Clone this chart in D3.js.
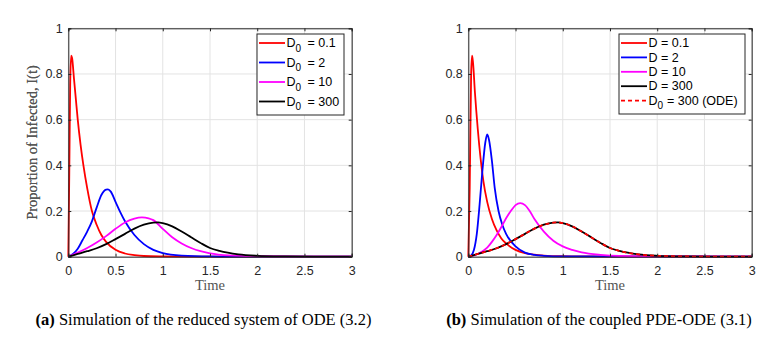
<!DOCTYPE html>
<html>
<head>
<meta charset="utf-8">
<script src="https://cdn.jsdelivr.net/npm/d3@7"></script>
<style>
  html, body { margin: 0; padding: 0; background: #fff; }
  svg text { white-space: pre; }
</style>
</head>
<body>
<div class="root"></div>
<script>
// tick values, labels
const xTicks = [0, 0.5, 1, 1.5, 2, 2.5, 3]
const yTicks = [0, 0.2, 0.4, 0.6, 0.8, 1]

// (a) reduced ODE system
const tRedA = [0, 0.01, 0.02, 0.03, 0.04, 0.06, 0.08, 0.1, 0.13, 0.16, 0.2, 0.25, 0.3, 0.35, 0.4, 0.5, 0.6, 0.7, 0.8, 1.0, 1.3, 3]
const iRedA = [0, 0.35, 0.75, 0.88, 0.87, 0.78, 0.69, 0.6, 0.49, 0.4, 0.3, 0.2, 0.14, 0.095, 0.065, 0.03, 0.014, 0.007, 0.003, 0.001, 0, 0]
const tBlueA = [0, 0.05, 0.1, 0.15, 0.2, 0.25, 0.3, 0.35, 0.4, 0.42, 0.45, 0.5, 0.55, 0.6, 0.7, 0.8, 0.9, 1.0, 1.2, 1.5, 2, 3]
const iBlueA = [0, 0.012, 0.035, 0.072, 0.11, 0.155, 0.215, 0.27, 0.294, 0.295, 0.285, 0.24, 0.195, 0.155, 0.095, 0.055, 0.03, 0.016, 0.005, 0.001, 0, 0]
const tMagA = [0, 0.1, 0.2, 0.3, 0.4, 0.5, 0.6, 0.7, 0.78, 0.85, 0.9, 1.0, 1.1, 1.2, 1.3, 1.4, 1.5, 1.7, 2.0, 2.5, 3]
const iMagA = [0, 0.018, 0.038, 0.062, 0.09, 0.122, 0.15, 0.167, 0.172, 0.168, 0.16, 0.122, 0.085, 0.058, 0.038, 0.024, 0.015, 0.006, 0.002, 0, 0]
const tBlack = [0, 0.1, 0.2, 0.3, 0.4, 0.5, 0.6, 0.7, 0.8, 0.9, 0.95, 1.0, 1.1, 1.2, 1.3, 1.4, 1.5, 1.6, 1.8, 2.0, 2.3, 2.6, 3]
const iBlack = [0, 0.012, 0.024, 0.037, 0.055, 0.077, 0.1, 0.123, 0.14, 0.149, 0.15, 0.147, 0.133, 0.11, 0.085, 0.06, 0.038, 0.025, 0.01, 0.004, 0.001, 0, 0]

// (b) coupled PDE-ODE
const tRedB = [0, 0.015, 0.03, 0.04, 0.05, 0.07, 0.1, 0.13, 0.16, 0.2, 0.25, 0.3, 0.35, 0.4, 0.5, 0.6, 0.7, 0.8, 1.0, 1.3, 1.6, 2.0, 3]
const iRedB = [0, 0.3, 0.8, 0.88, 0.85, 0.72, 0.56, 0.43, 0.33, 0.24, 0.165, 0.115, 0.08, 0.058, 0.03, 0.016, 0.009, 0.005, 0.002, 0.001, 0, 0, 0]
const tBlueB = [0, 0.03, 0.06, 0.09, 0.12, 0.15, 0.18, 0.2, 0.22, 0.25, 0.28, 0.32, 0.36, 0.4, 0.5, 0.6, 0.7, 0.8, 1.0, 3]
const iBlueB = [0, 0.005, 0.03, 0.1, 0.23, 0.38, 0.5, 0.535, 0.51, 0.42, 0.3, 0.2, 0.14, 0.1, 0.045, 0.018, 0.008, 0.004, 0.001, 0]
const tMagB = [0, 0.1, 0.2, 0.25, 0.3, 0.35, 0.4, 0.45, 0.5, 0.55, 0.6, 0.65, 0.7, 0.8, 0.9, 1.0, 1.1, 1.2, 1.4, 1.6, 2.0, 3]
const iMagB = [0, 0.012, 0.04, 0.065, 0.095, 0.13, 0.168, 0.2, 0.226, 0.235, 0.226, 0.2, 0.165, 0.11, 0.07, 0.045, 0.03, 0.019, 0.008, 0.003, 0.001, 0]

const namesA = ['D_0 = 0.1', 'D_0 = 2', 'D_0 = 10', 'D_0 = 300']
const namesB = ['D = 0.1', 'D = 2', 'D = 10', 'D = 300', 'D_0 = 300 (ODE)']
const colors = ['#ff0000', '#0000ff', '#ff00ff', '#000000', '#ff0000']

const zip = (ts, vs) => ts.map((t, i) => ({ t, v: vs[i] }))

const panels = [
  { left: 68.3, tag: '(a)', caption: ' Simulation of the reduced system of ODE (3.2)', capX: 203.5,
    series: [zip(tRedA, iRedA), zip(tBlueA, iBlueA), zip(tMagA, iMagA), zip(tBlack, iBlack)],
    names: namesA, subGap: 3, legend: { x: 257, y: 34, w: 87, h: 81, rowH: 19.5 } },
  { left: 468.3, tag: '(b)', caption: ' Simulation of the coupled PDE-ODE (3.1)', capX: 599,
    series: [zip(tRedB, iRedB), zip(tBlueB, iBlueB), zip(tMagB, iMagB), zip(tBlack, iBlack), zip(tBlack, iBlack)],
    names: namesB, subGap: 0.5, legend: { x: 619, y: 34, w: 126, h: 80, rowH: 14.4 } }
]

const plotTop = 28.3, plotH = 228.4, plotW = 283.4

const svg = d3.select('.root').append('svg')
              .attr('width', 778).attr('height', 338)

panels.forEach(p => {
  const g = svg.append('g').attr('transform', `translate(${p.left}, ${plotTop})`)
  const x = d3.scaleLinear().domain([0, 3]).range([0, plotW])
  const y = d3.scaleLinear().domain([0, 1]).range([plotH, 0])

  // grid
  g.append('g').selectAll('line').data(xTicks).enter().append('line')
    .attr('x1', d => x(d)).attr('x2', d => x(d)).attr('y1', 0).attr('y2', plotH)
    .attr('stroke', '#e3e3e3').attr('stroke-width', 1)
  g.append('g').selectAll('line').data(yTicks).enter().append('line')
    .attr('y1', d => y(d)).attr('y2', d => y(d)).attr('x1', 0).attr('x2', plotW)
    .attr('stroke', '#e3e3e3').attr('stroke-width', 1)

  // curves
  const line = d3.line().x(d => x(d.t)).y(d => y(d.v)).curve(d3.curveMonotoneX)
  p.series.forEach((s, i) => {
    g.append('path').datum(s).attr('d', line)
      .attr('fill', 'none').attr('stroke', colors[i]).attr('stroke-width', 1.8)
      .attr('stroke-dasharray', i === 4 ? '4,3' : null)
  })

  // axes with inward ticks, box
  const fmt = d3.format('~g')
  g.append('g').attr('transform', `translate(0, ${plotH})`)
    .call(d3.axisBottom(x).tickValues(xTicks).tickSize(-3).tickPadding(9).tickFormat(fmt))
  g.append('g').call(d3.axisLeft(y).tickValues(yTicks).tickSize(-3).tickPadding(5.5).tickFormat(fmt))
  g.append('g').call(d3.axisTop(x).tickValues(xTicks).tickSize(-3).tickFormat(''))
  g.append('g').attr('transform', `translate(${plotW}, 0)`)
    .call(d3.axisRight(y).tickValues(yTicks).tickSize(-3).tickFormat(''))
  g.selectAll('.domain').attr('stroke', '#262626')
  g.selectAll('.tick line').attr('stroke', '#262626')
  g.selectAll('.tick text').attr('font-family', 'Liberation Sans, Arial, sans-serif')
    .attr('font-size', 12.5).attr('fill', '#262626')

  // axis titles
  g.append('text').attr('x', plotW / 2).attr('y', 290 - plotTop)
    .attr('text-anchor', 'middle').attr('font-family', 'Liberation Serif, serif')
    .attr('font-size', 14.5).attr('fill', '#555').text('Time')
  g.append('text').attr('transform', `translate(${36.5 - p.left}, ${plotH / 2}) rotate(-90)`)
    .attr('text-anchor', 'middle').attr('font-family', 'Liberation Serif, serif')
    .attr('font-size', 14.5).attr('fill', '#555').text('Proportion of Infected, I(t)')

  // legend
  const L = p.legend
  const lg = svg.append('g').attr('transform', `translate(${L.x}, ${L.y})`)
  lg.append('rect').attr('x', 0).attr('y', 0).attr('width', L.w).attr('height', L.h)
    .attr('fill', '#fff').attr('stroke', '#262626').attr('stroke-width', 1)
  p.names.forEach((name, i) => {
    const cy = 9 + i * L.rowH
    lg.append('line').attr('x1', 2).attr('x2', 28).attr('y1', cy).attr('y2', cy)
      .attr('stroke', colors[i]).attr('stroke-width', 1.8)
      .attr('stroke-dasharray', i === 4 ? '4,3' : null)
    const parts = name.split('_')
    const t = lg.append('text').attr('x', 29.5).attr('y', cy + 4.2)
      .attr('font-family', 'Liberation Sans, Arial, sans-serif').attr('font-size', 12.5).attr('fill', '#000')
    if (parts.length === 1) {
      t.text(name)
    } else {
      t.append('tspan').text(parts[0])
      t.append('tspan').attr('dy', 4.5).attr('font-size', 10).text(parts[1][0])
      t.append('tspan').attr('dy', -4.5).attr('dx', p.subGap).text(parts[1].slice(1))
    }
  })

  // caption
  const c = svg.append('text').attr('x', p.capX).attr('y', 325).attr('text-anchor', 'middle')
    .attr('font-family', 'Liberation Serif, Times New Roman, serif').attr('font-size', 16.5).attr('fill', '#000')
  c.append('tspan').attr('font-weight', 'bold').text(p.tag)
  c.append('tspan').text(p.caption)
})
</script>
</body>
</html>
